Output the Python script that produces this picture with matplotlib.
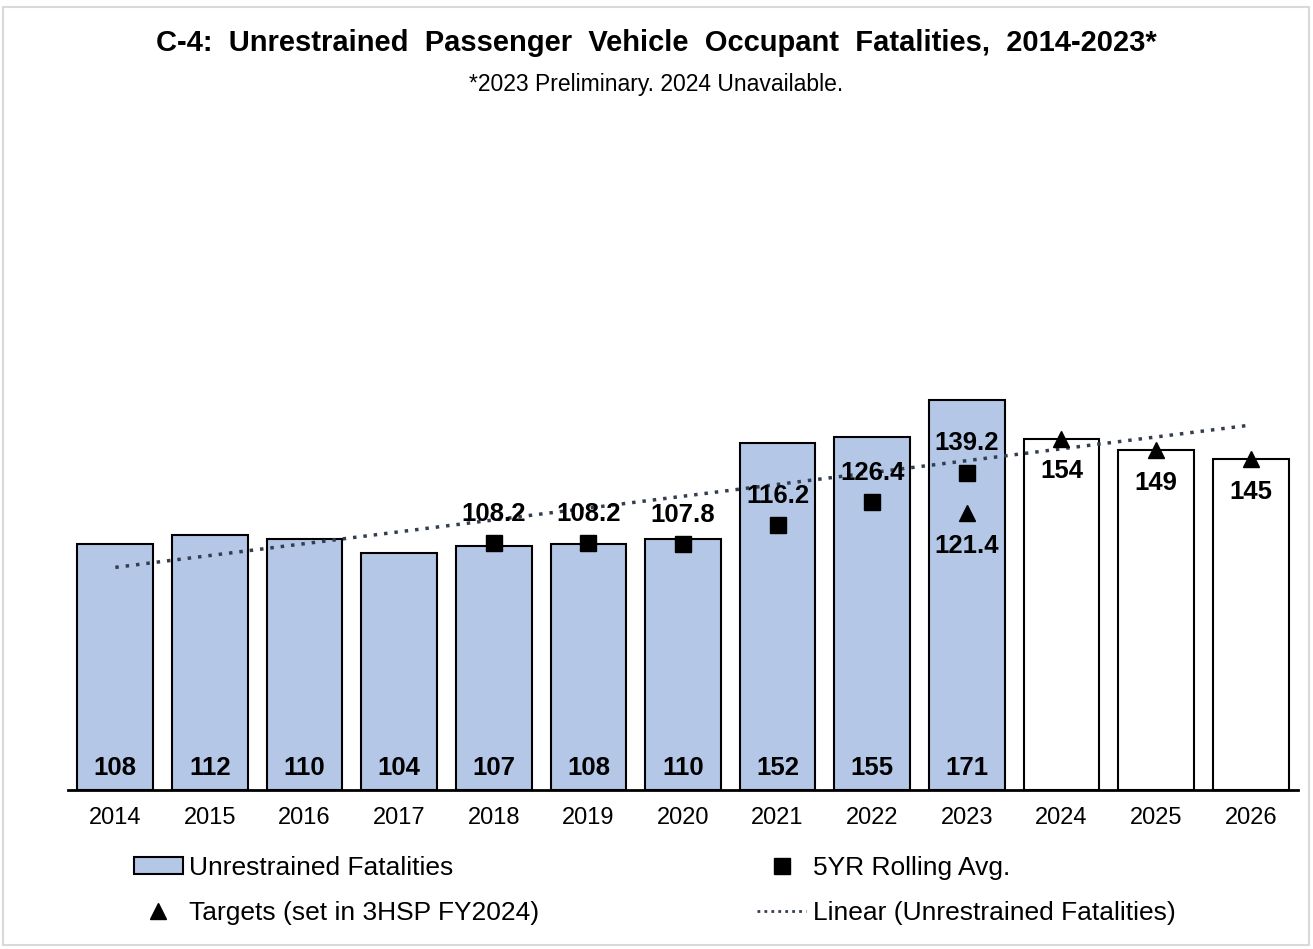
import numpy as np
import matplotlib
matplotlib.use('Agg')
import matplotlib.pyplot as plt
from matplotlib.patches import Patch, Rectangle
from matplotlib.lines import Line2D

plt.rcParams['font.family'] = ['Liberation Sans', 'DejaVu Sans']

years = ['2014', '2015', '2016', '2017', '2018', '2019', '2020',
         '2021', '2022', '2023', '2024', '2025', '2026']
fatalities = [108, 112, 110, 104, 107, 108, 110, 152, 155, 171]
rolling_avg = [None, None, None, None, 108.2, 108.2, 107.8, 116.2, 126.4, 139.2]
target_years = ['2023', '2024', '2025', '2026']
targets = [121.4, 154, 149, 145]
# trendline in the source is fitted on 2014-2022
trend_fit_n = 9

BLUE = '#b4c7e7'

fig = plt.figure(figsize=(13.13, 9.49), dpi=100)
fig.patches.append(Rectangle((3 / 1313, 4 / 949), 1306 / 1313, 938 / 949,
                             transform=fig.transFigure, fill=False,
                             edgecolor='#d9d9d9', linewidth=1.5))
ax = fig.add_axes([68 / 1313, 1 - 790 / 949, 1230 / 1313, 684 / 949])

x = np.arange(len(years))
xi = {y: i for i, y in enumerate(years)}

# actual fatalities
ax.bar(x[:len(fatalities)], fatalities, width=0.8, color=BLUE,
       edgecolor='black', linewidth=1.5, zorder=2)
for i, v in enumerate(fatalities):
    ax.annotate(str(v), (i, 0), xytext=(0, 10.8), textcoords='offset points',
                ha='center', va='baseline', fontsize=18.5, fontweight='bold', zorder=5)

# future target bars (white)
fut = [(xi[y], t) for y, t in zip(target_years, targets) if xi[y] >= len(fatalities)]
ax.bar([p for p, _ in fut], [t for _, t in fut], width=0.8, color='white',
       edgecolor='black', linewidth=1.5, zorder=2)

# trendline
coef = np.polyfit(np.arange(trend_fit_n), fatalities[:trend_fit_n], 1)
ax.plot(x, np.polyval(coef, x), linestyle=(0, (1, 2)), color='#333f50',
        linewidth=2.5, zorder=3)

# 5yr rolling average
ra_x = [i for i, v in enumerate(rolling_avg) if v is not None]
ra_y = [v for v in rolling_avg if v is not None]
ax.plot(ra_x, ra_y, linestyle='none', marker='s', markersize=11.5,
        color='black', zorder=4)
for i, v in zip(ra_x, ra_y):
    ax.annotate(f'{v:.1f}', (i, v), xytext=(0, 16), textcoords='offset points',
                ha='center', va='baseline', fontsize=18.5, fontweight='bold', zorder=5)

# targets
tx = [xi[y] for y in target_years]
ax.plot(tx, targets, linestyle='none', marker='^', markersize=11,
        color='black', zorder=4)
for i, v in zip(tx, targets):
    ax.annotate(f'{v:g}', (i, v), xytext=(0, -28.5), textcoords='offset points',
                ha='center', va='baseline', fontsize=18.5, fontweight='bold', zorder=5)

ax.set_xlim(-0.5, len(years) - 0.5)
ax.set_ylim(0, 300)
ax.set_xticks(x)
ax.set_xticklabels(years, fontsize=17)
ax.tick_params(axis='x', length=0, pad=12)
ax.set_yticks([])
for s in ['top', 'left', 'right']:
    ax.spines[s].set_visible(False)
ax.spines['bottom'].set_linewidth(2)

fig.text(0.5, 1 - 43 / 949,
         'C-4:  Unrestrained  Passenger  Vehicle  Occupant  Fatalities,  2014-2023*',
         ha='center', va='center', fontsize=21, fontweight='bold')
fig.text(0.5, 1 - 84 / 949, '*2023 Preliminary. 2024 Unavailable.',
         ha='center', va='center', fontsize=16.5)

handles = [
    Patch(facecolor=BLUE, edgecolor='black', linewidth=1.5),
    Line2D([], [], linestyle='none', marker='^', markersize=11, color='black'),
    Line2D([], [], linestyle='none', marker='s', markersize=11.5, color='black'),
    Line2D([], [], linestyle=(0, (1, 1.5)), color='#333f50', linewidth=2),
]
labels = ['Unrestrained Fatalities', 'Targets (set in 3HSP FY2024)',
          '5YR Rolling Avg.', 'Linear (Unrestrained Fatalities)']
fig.legend(handles, labels, loc='upper left', bbox_to_anchor=(134 / 1313, 1 - 856 / 949),
           ncol=2, frameon=False, fontsize=19, handlelength=1.85, handleheight=0.6,
           handletextpad=0.25, columnspacing=8.25, labelspacing=0.8,
           borderpad=0, borderaxespad=0)

fig.savefig('out.png', dpi=100)
